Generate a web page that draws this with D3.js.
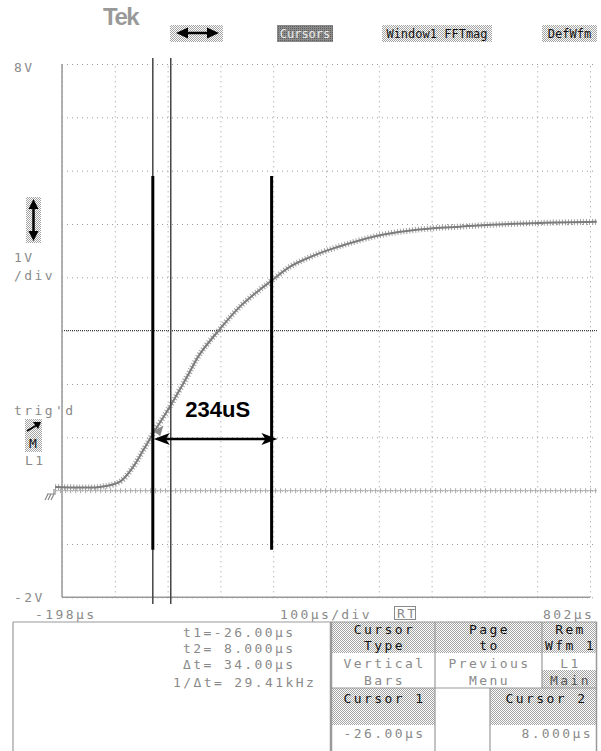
<!DOCTYPE html>
<html>
<head>
<meta charset="utf-8">
<script src="https://cdn.jsdelivr.net/npm/d3@7"></script>
<style>
  body { margin: 0; background: #fff; }
  svg { display: block; }
  text { font-family: "DejaVu Sans Mono", monospace; white-space: pre; }
</style>
</head>
<body>
<svg id="scope" width="601" height="751"></svg>
<script>
// waveform: time (us) and volts
const traceT = [-211, -164, -126, -88, -63, -44, -25, 6, 38, 63, 101, 139, 177, 198, 234, 272, 303, 347, 404, 455, 505, 556, 606, 707, 815];
const traceV = [0.07, 0.06, 0.07, 0.17, 0.45, 0.76, 1.08, 1.57, 2.12, 2.56, 3.03, 3.45, 3.77, 3.93, 4.2, 4.38, 4.5, 4.64, 4.79, 4.87, 4.92, 4.95, 4.98, 5.02, 5.04];
// second (flat) trace sitting on ground
const groundT = [-211, 815];
const groundV = [0, 0];

const cursorT = [-26, 8];
const markT = [-26, 199]; // hand drawn bars
const spanT = [-26, 210];
const spanLabel = "234uS";

const xTicks = [-198, -98, 2, 102, 202, 302, 402, 502, 602, 702, 802];
const yTicks = [-2, -1, 0, 1, 2, 3, 4, 5, 6, 7, 8];

const readouts = ["t1=-26.00µs", "t2= 8.000µs", "Δt= 34.00µs", "1/Δt= 29.41kHz"];
const menuTop = [["Cursor", "Type"], ["Page", "to"], ["Rem", "Wfm 1"]];
const menuSub = [["Vertical", "Bars"], ["Previous", "Menu"], ["L1", "Main"]];
const cursorLabels = ["Cursor 1", "Cursor 2"];
const cursorValues = ["-26.00µs", "8.000µs"];
const headerItems = ["Cursors", "Window1 FFTmag", "DefWfm"];

const svg = d3.select("#scope");

// halftone fill like the scope's grey boxes
const defs = svg.append("defs");
const pat = defs.append("pattern").attr("id", "ht")
  .attr("width", 2).attr("height", 2).attr("patternUnits", "userSpaceOnUse");
pat.append("rect").attr("width", 2).attr("height", 2).attr("fill", "#fff");
pat.append("rect").attr("width", 1).attr("height", 1).attr("fill", "#a4a4a4");
pat.append("rect").attr("x", 1).attr("y", 1).attr("width", 1).attr("height", 1).attr("fill", "#a4a4a4");
const pat2 = defs.append("pattern").attr("id", "htDark")
  .attr("width", 2).attr("height", 2).attr("patternUnits", "userSpaceOnUse");
pat2.append("rect").attr("width", 2).attr("height", 2).attr("fill", "#8a8a8a");
pat2.append("rect").attr("width", 1).attr("height", 1).attr("fill", "#5e5e5e");

const pLeft = 62, pRight = 590, pTop = 64, pBottom = 597.3;
const x = d3.scaleLinear().domain([-198, 802]).range([pLeft, pRight]);
const y = d3.scaleLinear().domain([-2, 8]).range([pBottom, pTop]);

// ---- header ----
svg.append("text").attr("x", 103).attr("y", 25).text("Tek")
  .style("font-family", "Liberation Sans, Arial").style("font-weight", "bold")
  .style("font-size", "24px").style("letter-spacing", "-1.5px").attr("fill", "#999");

svg.append("rect").attr("x", 170).attr("y", 25).attr("width", 53).attr("height", 17).attr("fill", "url(#ht)");
svg.append("line").attr("x1", 184).attr("x2", 211).attr("y1", 33).attr("y2", 33)
  .attr("stroke", "#000").attr("stroke-width", 2.5);
svg.append("path").attr("d", "M176,33 L188,27.5 L188,38.5 Z M219,33 L207,27.5 L207,38.5 Z").attr("fill", "#000");

const hdrBoxes = [[277, 56], [382, 110], [542, 55]];
headerItems.forEach((s, i) => {
  const [bx, bw] = hdrBoxes[i];
  svg.append("rect").attr("x", bx).attr("y", 25).attr("width", bw).attr("height", 17)
    .attr("fill", i === 0 ? "url(#htDark)" : "url(#ht)");
  svg.append("text").attr("x", bx + bw / 2).attr("y", 38).attr("text-anchor", "middle")
    .style("font-size", "12px").attr("fill", i === 0 ? "#ececec" : "#111").text(s);
});

// ---- graticule ----
const plot = svg.append("g");
plot.append("g").attr("transform", `translate(0,${pBottom})`)
  .call(d3.axisBottom(x).tickValues(xTicks).tickSize(-(pBottom - pTop)).tickFormat(""))
  .call(g => g.select(".domain").remove())
  .selectAll("line").attr("stroke", "#999").attr("stroke-dasharray", "1,4");
plot.append("g").attr("transform", `translate(${pLeft},0)`)
  .call(d3.axisLeft(y).tickValues(yTicks).tickSize(-(pRight - pLeft + 6)).tickFormat(""))
  .call(g => g.select(".domain").remove())
  .selectAll("line").attr("stroke", "#999").attr("stroke-dasharray", "1,4");
// centre line
plot.append("line").attr("x1", pLeft).attr("x2", pRight + 8).attr("y1", y(3)).attr("y2", y(3))
  .attr("stroke", "#222").attr("stroke-dasharray", "1,1");
// frame
plot.append("line").attr("x1", pLeft).attr("x2", pLeft).attr("y1", pTop).attr("y2", pBottom)
  .attr("stroke", "#999").attr("stroke-width", 1.5);
plot.append("line").attr("x1", pLeft).attr("x2", pRight).attr("y1", pBottom).attr("y2", pBottom)
  .attr("stroke", "#999").attr("stroke-width", 1.5);

// ---- traces ----
const line = d3.line().x(d => x(d[0])).y(d => y(d[1]));
const gnd = d3.zip(groundT, groundV);
plot.append("path").attr("d", line(gnd)).attr("fill", "none").attr("stroke", "#b5b5b5").attr("stroke-width", 1);
plot.append("path").attr("d", line(gnd)).attr("fill", "none").attr("stroke", "#a8a8a8")
  .attr("stroke-width", 5).attr("stroke-dasharray", "1,4");

const tr = d3.zip(traceT, traceV);
const trPath = line.curve(d3.curveCatmullRom.alpha(0.5))(tr);
plot.append("path").attr("d", trPath).attr("fill", "none").attr("stroke", "#a0a0a0")
  .attr("stroke-width", 6).attr("stroke-dasharray", "1,2");
plot.append("path").attr("d", trPath).attr("fill", "none").attr("stroke", "#7c7c7c").attr("stroke-width", 2);

// trigger arrow on the trace
plot.append("path")
  .attr("d", `M${x(-24)},${y(1.12)} L${x(-6)},${y(1.22)} L${x(-12)},${y(1.02)} Z`)
  .attr("fill", "#8a8a8a");

// ---- cursors ----
plot.selectAll(".cursor").data(cursorT).enter().append("line").attr("class", "cursor")
  .attr("x1", d => x(d)).attr("x2", d => x(d)).attr("y1", 58).attr("y2", 604)
  .attr("stroke", "#444").attr("stroke-width", 1.5);

// hand drawn measurement
plot.selectAll(".mark").data(markT).enter().append("line").attr("class", "mark")
  .attr("x1", d => x(d)).attr("x2", d => x(d)).attr("y1", y(5.9)).attr("y2", y(-1.11))
  .attr("stroke", "#000").attr("stroke-width", 3);
const ay = y(0.97);
plot.append("line").attr("x1", x(spanT[0]) + 10).attr("x2", x(spanT[1]) - 10)
  .attr("y1", ay).attr("y2", ay).attr("stroke", "#000").attr("stroke-width", 2.5);
plot.append("path")
  .attr("d", `M${x(spanT[0]) + 1},${ay} L${x(spanT[0]) + 17},${ay - 6} L${x(spanT[0]) + 13},${ay} L${x(spanT[0]) + 17},${ay + 6} Z` +
             `M${x(spanT[1])},${ay} L${x(spanT[1]) - 16},${ay - 6} L${x(spanT[1]) - 12},${ay} L${x(spanT[1]) - 16},${ay + 6} Z`)
  .attr("fill", "#000");
plot.append("text").attr("x", x(97)).attr("y", y(1.38)).attr("text-anchor", "middle")
  .style("font-family", "Liberation Sans, Arial").style("font-weight", "bold").style("font-size", "22px")
  .attr("fill", "#000").text(spanLabel);

// ---- left side labels ----
const lab = (tx, ty, s, fill) => svg.append("text").attr("x", tx).attr("y", ty)
  .style("font-size", "13px").style("letter-spacing", "2.4px").attr("fill", fill || "#8a8a8a").text(s);
lab(14, 72, "8V");
lab(14, 602, "-2V");
lab(14, 262, "1V");
lab(14, 280, "/div");
lab(14, 415, "trig'd");
lab(25, 465, "L1");

svg.append("rect").attr("x", 26).attr("y", 197).attr("width", 15).attr("height", 46).attr("fill", "url(#ht)");
svg.append("line").attr("x1", 33.5).attr("x2", 33.5).attr("y1", 206).attr("y2", 234).attr("stroke", "#000").attr("stroke-width", 2.5);
svg.append("path").attr("d", "M33.5,199 L28.5,209 L38.5,209 Z M33.5,241 L28.5,231 L38.5,231 Z").attr("fill", "#000");

svg.append("rect").attr("x", 25).attr("y", 419).attr("width", 17).attr("height", 33).attr("fill", "url(#ht)");
svg.append("line").attr("x1", 27).attr("x2", 37).attr("y1", 431).attr("y2", 425).attr("stroke", "#000").attr("stroke-width", 2);
svg.append("path").attr("d", "M41,422 L33,422 L38,429 Z").attr("fill", "#000");
svg.append("text").attr("x", 29).attr("y", 448).style("font-size", "13px").attr("fill", "#111").text("M");

// ground symbol
svg.append("path").attr("d", "M54,489 L54,494 M47,494 L56,494 M48,494 L45,500 M51,494 L48,500 M54,494 L51,500")
  .attr("stroke", "#8a8a8a").attr("stroke-width", 1.2).attr("fill", "none");

// ---- time labels ----
lab(35, 619, "-198µs");
lab(280, 619, "100µs/div");
lab(543, 619, "802µs");
svg.append("rect").attr("x", 394.5).attr("y", 606.5).attr("width", 21).attr("height", 13)
  .attr("fill", "none").attr("stroke", "#8a8a8a");
lab(397, 618, "RT");

// ---- bottom panel ----
const pane = svg.append("g");
[[332, 622, 103, 31], [435, 622, 107, 31], [542, 622, 55, 31], [542, 670, 55, 18], [332, 688, 103, 37], [490, 688, 107, 37]]
  .forEach(r => pane.append("rect").attr("x", r[0]).attr("y", r[1]).attr("width", r[2]).attr("height", r[3]).attr("fill", "url(#ht)"));
const seg = (x1, y1, x2, y2, w) => pane.append("line").attr("x1", x1).attr("y1", y1).attr("x2", x2).attr("y2", y2)
  .attr("stroke", "#9a9a9a").attr("stroke-width", w || 1.2);
seg(13, 622, 597, 622);
seg(13, 622, 13, 751);
seg(331, 622, 331, 751, 2.5);
seg(435, 622, 435, 751);
seg(542, 622, 542, 688);
seg(332, 688, 597, 688);
seg(490, 688, 490, 751);
seg(596.5, 622, 596.5, 751, 1.5);

readouts.forEach((s, i) => lab(i === 3 ? 173 : 183, [637, 653, 669, 687][i], s));

const colX = [383.5, 488.5, 569.5];
const ptxt = (tx, ty, s, fill, anchor) => pane.append("text").attr("x", tx).attr("y", ty)
  .attr("text-anchor", anchor || "middle").style("font-size", "13px").style("letter-spacing", "2.4px")
  .attr("fill", fill).text(s);
menuTop.forEach((m, i) => { ptxt(colX[i] + 1, 634, m[0], "#111"); ptxt(colX[i] + 1, 650, m[1], "#111"); });
menuSub.forEach((m, i) => { ptxt(colX[i] + 1, 668, m[0], i === 2 && false ? "#555" : "#8a8a8a"); ptxt(colX[i] + 1, 685, m[1], i === 2 ? "#555" : "#8a8a8a"); });
ptxt(384.5, 703, cursorLabels[0], "#111");
ptxt(546.5, 703, cursorLabels[1], "#111");
ptxt(384.5, 738, cursorValues[0], "#8a8a8a");
ptxt(593, 738, cursorValues[1], "#8a8a8a", "end");
</script>
</body>
</html>
